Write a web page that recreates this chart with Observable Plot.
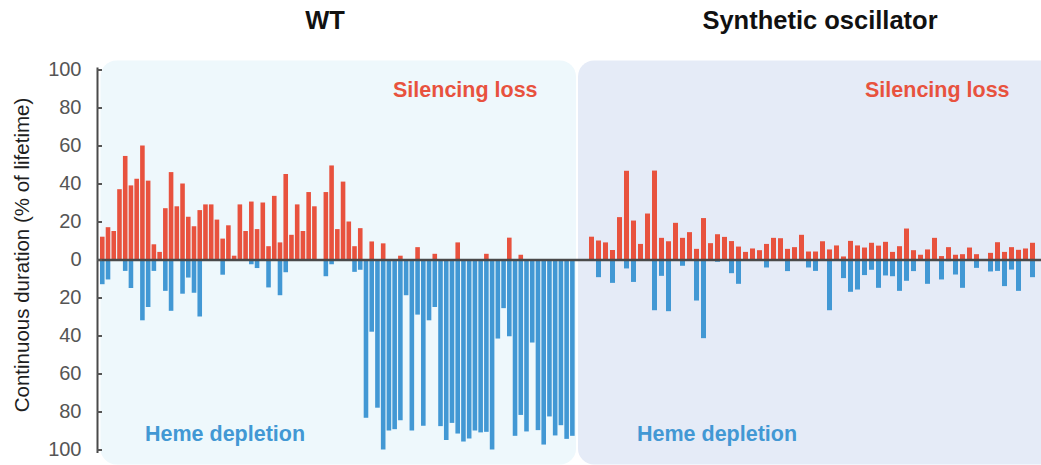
<!DOCTYPE html>
<html>
<head>
<meta charset="utf-8">
<script src="https://cdn.jsdelivr.net/npm/d3@7"></script>
<script src="https://cdn.jsdelivr.net/npm/@observablehq/plot@0.6"></script>
<style>
  body { margin: 0; background: #fff; overflow: hidden; font-family: "Liberation Sans", Arial, Helvetica, sans-serif; }
  #fig { position: relative; width: 1041px; height: 465px; }
  #fig svg { position: absolute; top: 0; }
  .t { position: absolute; white-space: nowrap; line-height: 1; }
  .title { font-size: 25.5px; font-weight: bold; color: #111; transform: translateX(-50%); }
  .lab { font-size: 21.5px; font-weight: bold; }
</style>
</head>
<body>
<div id="fig"></div>
<script>
// Continuous duration (% of lifetime) of each cell's longest silencing-loss
// episode (drawn upward) and heme-depletion episode (drawn downward).
const panelTitles = ["WT", "Synthetic oscillator"];
const upLabel = "Silencing loss";
const downLabel = "Heme depletion";
const yLabel = "Continuous duration (% of lifetime)";
const yTicks = [-100, -80, -60, -40, -20, 0, 20, 40, 60, 80, 100];

const wtSilencing = [
  12, 17, 15, 37, 54.5, 39, 42.5, 60, 41.5, 8, 4, 27, 46, 28, 40, 22.5, 17.5, 26, 29, 29,
  21, 11, 18, 2, 29, 15, 30.5, 16, 30, 7, 33.5, 9, 45, 13, 29, 15, 35.5, 28, 0, 35.5,
  49.5, 16, 41, 20, 7, 16.5, 0, 9.5, 0, 8.5, 0, 0, 2, 0, 0, 6.5, 0, 0, 3, 0,
  0, 0, 9, 0, 0, 0, 0, 3, 0, 0, 0, 11.5, 0, 2.5, 0, 0, 0, 0, 0, 0,
  0, 0, 0
];
const wtHeme = [
  13, 10.5, 0, 0, 6, 15, 0, 32, 25, 6, 0, 16.5, 27, 0, 18, 9.5, 17.5, 30, 0, 0,
  0, 8, 0, 0, 0, 0, 2.5, 4.5, 0, 14.7, 0, 18.8, 6.7, 0, 0, 0, 0, 0, 0, 8.8,
  2.5, 0, 0, 0, 6.5, 5.4, 83.3, 38, 78, 100, 90, 89.3, 84.6, 18.8, 90, 29, 87.5, 32, 25, 87.7,
  95, 86, 91.6, 95.8, 94.2, 90, 91, 90.7, 100, 41.6, 25.6, 40.4, 92.8, 81.8, 90.5, 43.7, 89.8, 97.4, 82.6, 92.6,
  87.2, 94.4, 92.8
];

const synSilencing = [
  12, 10, 9, 5, 22.3, 46.7, 20.5, 8.2, 24.2, 46.8, 11.4, 9.6, 19.3, 11.4, 14.4, 5.6, 21.8, 8.6, 13.3, 11.9,
  9.7, 6.8, 4, 5.8, 4.9, 8.2, 11.4, 11.2, 5.6, 6.5, 13, 4.2, 4.2, 9.6, 5.3, 7.4, 1.6, 9.8, 7.4, 6.3,
  8.8, 7.3, 9.3, 4, 7, 16.3, 4.9, 2.5, 5.3, 11.4, 1.8, 6.5, 2.5, 2.8, 6.3, 2.8, 0, 3.5, 9.1, 4,
  6.5, 5.1, 5.8, 8.8
];
const synHeme = [
  0, 9.3, 0, 12.3, 0, 4.7, 11.8, 0, 0, 26.7, 8.6, 27.2, 0, 3.3, 0, 21.6, 41.4, 0, 1.2, 0,
  7.2, 12.8, 0, 0, 0, 4.2, 0, 0, 6.1, 0, 0, 4.2, 6, 0, 26.7, 0, 9.8, 17, 15.8, 8.2,
  5.4, 14.9, 8.4, 8.8, 16.5, 11.2, 6.1, 0, 12.8, 0, 10.5, 0.9, 7.9, 14.9, 0, 4.4, 0, 6.3, 6, 14,
  5.3, 16.5, 0.7, 9.3
];

const RED = "#e8523e";
const BLUE = "#4298d4";
const AXIS = "#4a4a4a";
const FONT = "'Liberation Sans', Arial, Helvetica, sans-serif";
const H = 465, MT = 69.5, MB = 15.5;

function rowsOf(up, down) {
  return up.map((v, i) => ({cell: i + 1, up: v, down: down[i]}));
}

function panel({rows, width, marginLeft, paddingInner, paddingOuter, align, bg, inset, extra = [], yAxis}) {
  return Plot.plot({
    width, height: H,
    marginTop: MT, marginBottom: MB, marginLeft, marginRight: 0,
    style: {background: "transparent", fontFamily: FONT, color: "#555", overflow: "visible"},
    x: {type: "band", domain: rows.map(d => d.cell), paddingInner, paddingOuter, align, axis: null},
    y: {domain: [-100, 100], axis: yAxis ? undefined : null},
    marks: [
      Plot.frame({fill: bg, stroke: "none", rx: 16, ...inset}),
      Plot.barY(rows, {x: "cell", y: "up", fill: RED}),
      Plot.barY(rows, {x: "cell", y: d => -d.down, fill: BLUE}),
      Plot.ruleY([0], {stroke: AXIS, strokeWidth: 2.5}),
      ...extra
    ]
  });
}

const fig = document.getElementById("fig");

const wtPlot = panel({
  rows: rowsOf(wtSilencing, wtHeme),
  width: 577, marginLeft: 97,
  paddingInner: 0.2, paddingOuter: 0.465, align: 0.56,
  bg: "#eef8fc",
  inset: {insetLeft: 3, insetRight: 1.5, insetTop: -9.5, insetBottom: -14.5},
  yAxis: true,
  extra: [
    Plot.frame({anchor: "left", stroke: AXIS, strokeWidth: 2, insetTop: -1.5, insetBottom: -2}),
    Plot.axisY(yTicks, {
      tickSize: -5, tickPadding: 21, strokeWidth: 2,
      tickFormat: d => Math.abs(d), fontSize: 20, label: null
    })
  ]
});
wtPlot.style.left = "0px";
fig.appendChild(wtPlot);

const synPlot = panel({
  rows: rowsOf(synSilencing, synHeme),
  width: 464, marginLeft: 0,
  paddingInner: 0.22, paddingOuter: 0.855, align: 0.7,
  bg: "#e5ebf7",
  inset: {insetLeft: 0.5, insetRight: -30, insetTop: -9.5, insetBottom: -14.5},
  yAxis: false
});
synPlot.style.left = "577px";
fig.appendChild(synPlot);

// Text: panel titles, in-panel category labels and the y-axis title
function addText(text, cls, css) {
  const el = document.createElement("div");
  el.className = "t " + cls;
  el.textContent = text;
  Object.assign(el.style, css);
  fig.appendChild(el);
  return el;
}
addText(panelTitles[0], "title", {left: "325px", top: "8px"});
addText(panelTitles[1], "title", {left: "820px", top: "8px"});
addText(upLabel, "lab", {left: "393px", top: "80px", color: RED});
addText(upLabel, "lab", {left: "865px", top: "80px", color: RED});
addText(downLabel, "lab", {left: "145px", top: "424px", color: BLUE});
addText(downLabel, "lab", {left: "637px", top: "424px", color: BLUE});
addText(yLabel, "", {
  left: "22px", top: "255px", fontSize: "20.5px", color: "#1e1e1e",
  transform: "translate(-50%, -50%) rotate(-90deg)"
});
</script>
</body>
</html>
